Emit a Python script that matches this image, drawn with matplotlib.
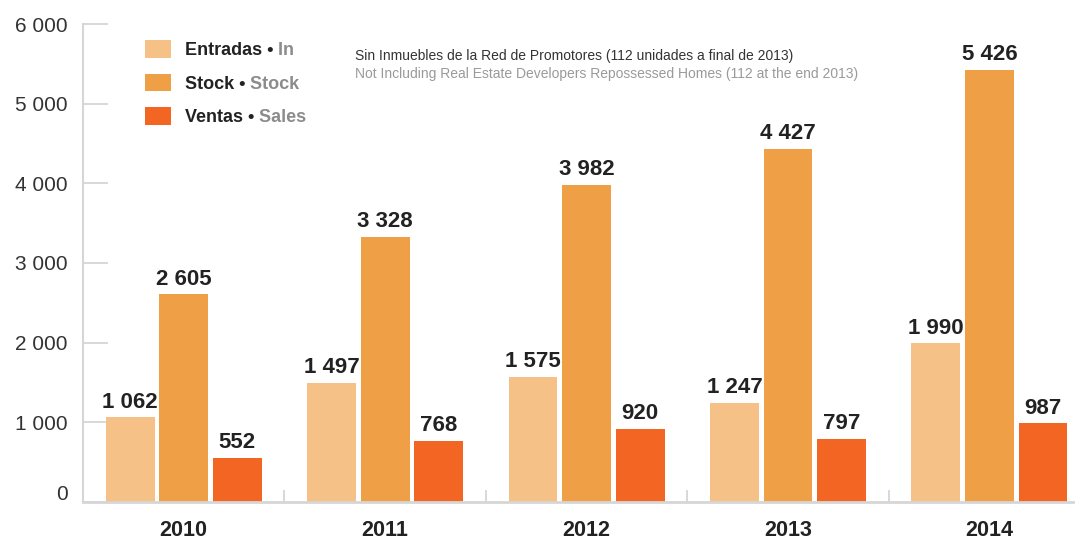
import numpy as np
import matplotlib
matplotlib.use("Agg")
import matplotlib.pyplot as plt
import matplotlib.transforms as mtransforms

plt.rcParams['font.family'] = ['Liberation Sans', 'DejaVu Sans']

# unidades por año
years = ['2010', '2011', '2012', '2013', '2014']
entradas = [1062, 1497, 1575, 1247, 1990]
stock = [2605, 3328, 3982, 4427, 5426]
ventas = [552, 768, 920, 797, 987]

series_es = ['Entradas', 'Stock', 'Ventas']
series_en = ['In', 'Stock', 'Sales']
colors = ['#F6C186', '#EFA047', '#F26522']

note_es = "Sin Inmuebles de la Red de Promotores (112 unidades a final de 2013)"
note_en = "Not Including Real Estate Developers Repossessed Homes (112 at the end 2013)"


def fmt(v):
    return "{:,}".format(int(v)).replace(",", " ")


fig = plt.figure(figsize=(10.75, 5.4), dpi=100)
ax = fig.add_axes([83 / 1075, 38 / 540, 992 / 1075, 478 / 540])

x = np.arange(len(years))
w = 0.243
offs = [-0.266, 0, 0.266]
for vals, off, c, lab in zip([entradas, stock, ventas], offs, colors, series_es):
    bars = ax.bar(x + off, vals, w, color=c, label=lab + " \u2022", zorder=2)
    ax.bar_label(bars, labels=[fmt(v) for v in vals], padding=3.5,
                 fontsize=16, fontweight='bold', color='#222222')

ax.set_xlim(-0.5, 4.425)
ax.set_ylim(0, 6000)

grey = '#d6d6d6'
for s in ['top', 'right']:
    ax.spines[s].set_visible(False)
ax.spines['left'].set_color(grey)
ax.spines['left'].set_linewidth(1.5)
ax.spines['bottom'].set_color(grey)
ax.spines['bottom'].set_linewidth(2)

ax.set_yticks(range(0, 6001, 1000))
ax.set_yticklabels([fmt(v) for v in range(0, 6001, 1000)])
ax.tick_params(axis='y', direction='in', length=18, width=1.3, color=grey,
               pad=11, labelsize=15, labelcolor='#333333')

ax.set_xticks(x)
ax.set_xticklabels(years)
ax.tick_params(axis='x', length=0, pad=13, labelsize=15.5, labelcolor='#222222')
for t in ax.get_xticklabels():
    t.set_fontweight('bold')
ax.set_xticks(x[:-1] + 0.5, minor=True)
ax.tick_params(axis='x', which='minor', direction='in', length=8.6, width=1.3, color=grey)

# el 0 va un poco mas arriba
zero = ax.get_yticklabels()[0]
zero.set_transform(zero.get_transform() + mtransforms.ScaledTranslation(0, 10 / 100, fig.dpi_scale_trans))

leg = ax.legend(loc='upper left', bbox_to_anchor=(0.0625, 0.966), frameon=False,
                borderpad=0, borderaxespad=0, handlelength=1.45, handleheight=1.1,
                handletextpad=0.75, labelspacing=0.82,
                prop={'size': 13, 'weight': 'bold'})
for t, en in zip(leg.get_texts(), series_en):
    t.set_color('#222222')
    ax.annotate(" " + en, xy=(1, 0), xycoords=t, va='bottom', ha='left',
                fontsize=13, fontweight='bold', color='#8c8c8c', zorder=10)

ax.text(0.274, 0.933, note_es, transform=ax.transAxes, fontsize=10,
        color='#333333', va='center', ha='left')
ax.text(0.274, 0.895, note_en, transform=ax.transAxes, fontsize=10,
        color='#9a9a9a', va='center', ha='left')

fig.savefig("out.png", dpi=100)
